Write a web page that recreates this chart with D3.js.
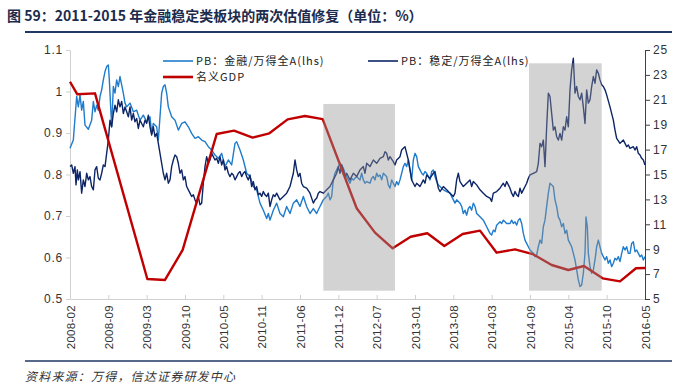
<!DOCTYPE html>
<html>
<head>
<meta charset="utf-8">
<script src="https://cdn.jsdelivr.net/npm/d3@7"></script>
<style>
  body { margin: 0; background: #fff; }
  svg { display: block; }
</style>
</head>
<body>
<div id="chart"></div>
<script>
// ---- data ----
// x is a trading-day style index along the category axis (0 = 2008-02, 1725 = 2016-05)
const xTickLabels = ['2008-02', '2008-09', '2009-03', '2009-10', '2010-05', '2010-11', '2011-06', '2011-12',
  '2012-07', '2013-01', '2013-08', '2014-03', '2014-09', '2015-04', '2015-10', '2016-05'];
const xTickStep = 115;

const leftTicks = [0.5, 0.6, 0.7, 0.8, 0.9, 1.0, 1.1];
const rightTicks = [5, 7, 9, 11, 13, 15, 17, 19, 21, 23, 25];

// PB: 金融/万得全A (lhs)
const finPB = [
  [0,0.863],[10,0.883],[20,0.988],[25,0.963],[30,0.992],[35,0.955],[40,0.976],[45,0.919],[55,0.909],[65,0.931],
  [70,0.976],[75,0.951],[80,0.967],[85,0.955],[90,0.988],[95,1.004],[100,1.028],[105,1.048],[110,1.060],[115,1.064],
  [118,1.028],[122,0.963],[125,0.915],[130,1.012],[135,0.996],[140,1.028],[145,1.012],[150,1.036],[155,1.016],[160,0.996],
  [165,0.972],[170,0.963],[180,0.972],[190,0.951],[200,0.955],[210,0.931],[220,0.943],[230,0.927],[240,0.939],[245,0.899],
  [250,0.923],[260,0.915],[265,0.883],[270,0.939],[275,0.996],[280,1.012],[285,1.016],[290,0.996],[295,0.963],[305,0.939],
  [315,0.931],[325,0.907],[335,0.923],[345,0.927],[355,0.915],[365,0.899],[375,0.887],[385,0.891],[395,0.883],[405,0.879],
  [415,0.867],[425,0.859],[435,0.847],[445,0.839],[455,0.851],[465,0.819],[475,0.835],[485,0.823],[495,0.875],[500,0.879],
  [510,0.859],[520,0.835],[530,0.803],[540,0.795],[550,0.771],[560,0.763],[570,0.731],[580,0.714],[590,0.694],[595,0.706],
  [600,0.690],[610,0.714],[620,0.731],[630,0.706],[640,0.698],[650,0.723],[660,0.706],[670,0.731],[680,0.739],[690,0.723],
  [700,0.747],[710,0.723],[720,0.706],[730,0.718],[740,0.706],[745,0.715],[750,0.723],[755,0.731],[760,0.739],[770,0.747],
  [775,0.755],[780,0.739],[785,0.747],[790,0.787],[795,0.803],[800,0.811],[805,0.819],[810,0.827],[815,0.823],[820,0.815],
  [825,0.803],[830,0.795],[835,0.787],[840,0.779],[845,0.791],[850,0.787],[860,0.795],[870,0.787],[875,0.803],[880,0.787],
  [885,0.779],[890,0.783],[900,0.779],[905,0.791],[910,0.795],[915,0.787],[920,0.803],[925,0.795],[930,0.799],[935,0.787],
  [940,0.803],[945,0.799],[950,0.795],[955,0.775],[960,0.767],[965,0.787],[970,0.779],[975,0.771],[980,0.783],[985,0.775],
  [990,0.787],[995,0.803],[1000,0.819],[1005,0.827],[1010,0.819],[1015,0.835],[1020,0.811],[1025,0.787],[1030,0.835],[1035,0.851],
  [1040,0.843],[1045,0.819],[1050,0.811],[1055,0.803],[1060,0.799],[1065,0.807],[1070,0.803],[1075,0.795],[1080,0.787],[1085,0.807],
  [1090,0.811],[1095,0.795],[1100,0.783],[1105,0.775],[1110,0.771],[1120,0.763],[1130,0.759],[1140,0.755],[1150,0.739],[1155,0.731],
  [1160,0.739],[1170,0.731],[1175,0.723],[1180,0.706],[1185,0.714],[1190,0.702],[1195,0.718],[1200,0.723],[1205,0.714],[1210,0.731],
  [1215,0.723],[1220,0.706],[1230,0.698],[1240,0.690],[1250,0.674],[1255,0.666],[1260,0.658],[1265,0.654],[1270,0.666],[1275,0.662],
  [1280,0.678],[1290,0.686],[1295,0.682],[1300,0.690],[1305,0.686],[1310,0.682],[1320,0.682],[1325,0.690],[1330,0.682],[1335,0.686],
  [1340,0.678],[1345,0.690],[1350,0.694],[1355,0.682],[1360,0.658],[1365,0.642],[1370,0.634],[1375,0.626],[1380,0.618],[1390,0.610],
  [1395,0.602],[1400,0.606],[1405,0.626],[1410,0.642],[1415,0.634],[1420,0.674],[1425,0.690],[1430,0.723],[1435,0.755],[1440,0.779],
  [1445,0.775],[1450,0.771],[1455,0.739],[1460,0.723],[1465,0.698],[1470,0.690],[1475,0.674],[1480,0.682],[1485,0.658],[1490,0.666],
  [1495,0.642],[1500,0.634],[1505,0.626],[1510,0.610],[1515,0.594],[1520,0.570],[1525,0.546],[1530,0.530],[1535,0.534],[1540,0.562],
  [1545,0.610],[1548,0.698],[1552,0.674],[1555,0.610],[1560,0.578],[1565,0.562],[1570,0.570],[1575,0.594],[1580,0.626],[1585,0.642],
  [1590,0.626],[1595,0.610],[1600,0.602],[1605,0.594],[1610,0.602],[1615,0.586],[1620,0.594],[1625,0.578],[1630,0.586],[1635,0.598],
  [1640,0.594],[1645,0.602],[1650,0.590],[1655,0.610],[1660,0.626],[1665,0.618],[1670,0.626],[1675,0.610],[1680,0.610],[1685,0.634],
  [1690,0.638],[1695,0.614],[1700,0.618],[1705,0.610],[1710,0.602],[1715,0.606],[1720,0.594],[1725,0.602]
];

// PB: 稳定/万得全A (lhs)
const stablePB = [
  [0,0.819],[5,0.823],[10,0.803],[15,0.819],[18,0.775],[22,0.811],[25,0.787],[30,0.807],[35,0.755],[40,0.787],
  [45,0.771],[50,0.803],[55,0.787],[60,0.795],[65,0.771],[70,0.763],[75,0.811],[80,0.819],[85,0.791],[90,0.787],
  [95,0.803],[100,0.823],[105,0.819],[110,0.851],[115,0.883],[120,0.931],[125,0.915],[130,0.947],[135,0.967],[140,0.951],
  [145,0.980],[150,0.963],[155,0.976],[160,0.947],[165,0.963],[170,0.951],[175,0.939],[180,0.963],[185,0.931],[190,0.947],
  [195,0.927],[200,0.935],[205,0.911],[210,0.931],[215,0.923],[220,0.915],[225,0.931],[230,0.923],[235,0.943],[240,0.915],
  [245,0.895],[250,0.915],[255,0.891],[260,0.899],[265,0.875],[270,0.851],[275,0.827],[280,0.803],[285,0.787],[290,0.803],
  [295,0.779],[300,0.787],[305,0.819],[310,0.835],[315,0.847],[320,0.843],[325,0.827],[330,0.803],[335,0.811],[340,0.787],
  [345,0.795],[350,0.771],[360,0.755],[365,0.747],[370,0.751],[375,0.739],[380,0.731],[385,0.747],[390,0.727],[395,0.731],
  [400,0.779],[405,0.819],[410,0.843],[415,0.827],[420,0.835],[425,0.851],[430,0.843],[435,0.835],[440,0.839],[445,0.827],
  [450,0.843],[455,0.823],[460,0.835],[465,0.811],[470,0.819],[475,0.803],[480,0.795],[485,0.803],[490,0.799],[495,0.787],
  [500,0.795],[505,0.803],[510,0.807],[515,0.795],[520,0.803],[525,0.807],[530,0.795],[535,0.787],[540,0.799],[545,0.771],
  [550,0.783],[555,0.763],[560,0.771],[565,0.751],[570,0.755],[575,0.747],[580,0.759],[585,0.751],[590,0.747],[595,0.755],
  [600,0.723],[605,0.739],[610,0.751],[615,0.747],[620,0.755],[630,0.739],[640,0.747],[650,0.755],[660,0.771],[670,0.803],
  [675,0.835],[680,0.811],[685,0.795],[690,0.803],[695,0.779],[700,0.771],[710,0.767],[720,0.755],[730,0.731],[735,0.739],
  [740,0.743],[745,0.755],[750,0.759],[760,0.755],[770,0.763],[780,0.771],[790,0.787],[800,0.803],[805,0.819],[810,0.803],
  [815,0.823],[820,0.811],[825,0.795],[830,0.803],[840,0.787],[850,0.803],[860,0.795],[870,0.811],[880,0.819],[885,0.803],
  [890,0.827],[900,0.819],[910,0.835],[920,0.827],[930,0.839],[940,0.843],[945,0.855],[950,0.851],[955,0.835],[960,0.843],
  [970,0.831],[975,0.823],[980,0.835],[990,0.843],[995,0.859],[1000,0.863],[1005,0.867],[1010,0.851],[1015,0.835],[1020,0.811],
  [1025,0.787],[1030,0.779],[1035,0.771],[1040,0.779],[1050,0.771],[1060,0.787],[1065,0.779],[1070,0.799],[1080,0.791],[1090,0.803],
  [1095,0.807],[1100,0.787],[1105,0.767],[1110,0.759],[1120,0.771],[1130,0.763],[1140,0.755],[1150,0.747],[1155,0.755],[1160,0.787],
  [1165,0.803],[1170,0.783],[1180,0.771],[1190,0.779],[1200,0.787],[1205,0.771],[1210,0.783],[1220,0.775],[1230,0.763],[1240,0.755],
  [1250,0.747],[1260,0.743],[1265,0.735],[1270,0.755],[1280,0.759],[1290,0.767],[1300,0.779],[1305,0.771],[1310,0.783],[1315,0.775],
  [1320,0.767],[1325,0.755],[1330,0.747],[1335,0.759],[1340,0.751],[1345,0.747],[1350,0.767],[1355,0.755],[1360,0.763],[1365,0.771],
  [1370,0.779],[1375,0.791],[1380,0.799],[1390,0.803],[1400,0.807],[1405,0.827],[1410,0.875],[1415,0.867],[1420,0.883],[1425,0.819],
  [1430,0.915],[1435,0.996],[1440,0.988],[1445,0.947],[1450,0.907],[1455,0.915],[1460,0.891],[1465,0.883],[1470,0.899],[1475,0.883],
  [1480,0.915],[1485,0.907],[1490,0.939],[1495,0.915],[1500,1.004],[1505,1.052],[1510,1.080],[1515,0.996],[1520,1.012],[1525,0.988],
  [1530,0.980],[1535,0.996],[1540,0.963],[1545,0.923],[1550,1.004],[1555,0.972],[1560,0.980],[1565,1.012],[1570,1.036],[1575,1.020],
  [1580,1.052],[1585,1.044],[1590,1.028],[1595,1.016],[1600,1.012],[1605,1.004],[1610,0.992],[1620,0.963],[1630,0.931],[1635,0.907],
  [1640,0.887],[1650,0.875],[1660,0.883],[1665,0.875],[1670,0.867],[1675,0.871],[1680,0.863],[1690,0.867],[1695,0.859],[1700,0.867],
  [1705,0.851],[1710,0.847],[1715,0.839],[1720,0.835],[1725,0.823]
];

// 名义GDP (rhs, %)
const nominalGDP = [
  [0,22.45],[22,21.44],[75,21.52],[232,6.61],[285,6.53],[338,8.94],[440,18.25],[492,18.52],[548,17.96],[598,18.31],
  [653,19.43],[705,19.70],[758,19.45],[860,12.29],[915,10.33],[968,9.07],[1022,10.00],[1072,10.28],[1123,9.26],[1178,10.22],
  [1230,10.49],[1280,8.72],[1335,8.99],[1388,8.61],[1445,7.73],[1495,7.33],[1542,7.65],[1598,6.66],[1650,6.42],[1698,7.47],
  [1725,7.49]
];

// two valuation-repair windows: [x start, x end, lhs bottom, lhs top]
const shadedPeriods = [
  [760, 975, 0.52, 0.97],
  [1377, 1595, 0.52, 1.068]
];

const seriesNames = ['PB：金融/万得全A(lhs)', 'PB：稳定/万得全A(lhs)', '名义GDP'];

// ---- layout ----
const W = 682, H = 389;
const margin = { top: 50, right: 37, bottom: 90, left: 70 };
const innerW = W - margin.left - margin.right;
const innerH = H - margin.top - margin.bottom;

const COLORS = {
  fin: '#1f7bcc',
  stable: '#0d2566',
  gdp: '#c00000',
  title: '#1c2b4c',
  rule: '#1f3864',
  text: '#333333',
  axisLight: '#d0d0d0',
  axisDark: '#404040'
};
const FONT = '"Noto Sans CJK SC", "Noto Sans", sans-serif';
const NUM_FONT = '"Liberation Sans", Arial, sans-serif';

const svg = d3.select('#chart').append('svg').attr('width', W).attr('height', H);

// title + rules
svg.append('text').attr('x', 7).attr('y', 21)
  .attr('font-family', FONT).attr('font-size', '14px').attr('font-weight', 'bold')
  .attr('fill', COLORS.title)
  .text('图 59：2011-2015 年金融稳定类板块的两次估值修复（单位：%）');
svg.append('line').attr('x1', 25).attr('x2', 672).attr('y1', 32).attr('y2', 32)
  .attr('stroke', COLORS.rule).attr('stroke-width', 2);
svg.append('line').attr('x1', 25).attr('x2', 672).attr('y1', 361).attr('y2', 361)
  .attr('stroke', COLORS.rule).attr('stroke-width', 1.5);
svg.append('text').attr('x', 25).attr('y', 381)
  .attr('font-family', FONT).attr('font-size', '12px').attr('font-style', 'italic')
  .attr('letter-spacing', '1.2px')
  .attr('fill', COLORS.text)
  .text('资料来源：万得，信达证券研发中心');

const g = svg.append('g').attr('transform', `translate(${margin.left},${margin.top})`);

const x = d3.scaleLinear().domain([0, xTickStep * (xTickLabels.length - 1)]).range([0, innerW]);
const yL = d3.scaleLinear().domain([0.5, 1.1]).range([innerH, 0]);
const yR = d3.scaleLinear().domain([5, 25]).range([innerH, 0]);

// axes
const xAxisG = g.append('g').attr('transform', `translate(0,${innerH})`)
  .call(d3.axisBottom(x)
    .tickValues(xTickLabels.map((_, i) => i * xTickStep))
    .tickFormat((d, i) => xTickLabels[i])
    .tickSize(-4).tickSizeOuter(0));
xAxisG.selectAll('text')
  .attr('transform', 'rotate(-90)')
  .attr('text-anchor', 'end')
  .attr('x', -6).attr('y', 0).attr('dy', '0.35em');

const yLAxisG = g.append('g')
  .call(d3.axisLeft(yL).tickValues(leftTicks).tickSize(4).tickSizeOuter(0)
    .tickFormat(d => d === 1 ? '1' : d.toFixed(1)));

const yRAxisG = g.append('g').attr('transform', `translate(${innerW},0)`)
  .call(d3.axisRight(yR).tickValues(rightTicks).tickSize(5).tickSizeOuter(0));

[xAxisG, yLAxisG, yRAxisG].forEach(axis => {
  axis.selectAll('text').attr('fill', COLORS.text).attr('font-size', '12px')
    .attr('font-family', NUM_FONT).attr('letter-spacing', '0.8px');
});
xAxisG.selectAll('text').attr('font-size', '11.5px').attr('letter-spacing', '0.3px');
[xAxisG, yLAxisG].forEach(axis => axis.selectAll('line,path').attr('stroke', COLORS.axisLight));
yRAxisG.selectAll('line,path').attr('stroke', COLORS.axisDark);

// lines
const lineL = d3.line().x(d => x(d[0])).y(d => yL(d[1]));
const lineR = d3.line().x(d => x(d[0])).y(d => yR(d[1]));

g.append('path').datum(finPB).attr('d', lineL)
  .attr('fill', 'none').attr('stroke', COLORS.fin).attr('stroke-width', 1.4).attr('stroke-linejoin', 'round');
g.append('path').datum(stablePB).attr('d', lineL)
  .attr('fill', 'none').attr('stroke', COLORS.stable).attr('stroke-width', 1.4).attr('stroke-linejoin', 'round');
g.append('path').datum(nominalGDP).attr('d', lineR)
  .attr('fill', 'none').attr('stroke', COLORS.gdp).attr('stroke-width', 2.4).attr('stroke-linejoin', 'round');

// translucent shading drawn on top, as in the original
g.selectAll('rect.period').data(shadedPeriods).join('rect')
  .attr('class', 'period')
  .attr('x', d => x(d[0])).attr('width', d => x(d[1]) - x(d[0]))
  .attr('y', d => yL(d[3])).attr('height', d => yL(d[2]) - yL(d[3]))
  .attr('fill', '#939393').attr('fill-opacity', 0.41);

// legend
const legendItems = [
  { name: seriesNames[0], color: COLORS.fin, w: 1.6, x: 163, y: 61 },
  { name: seriesNames[1], color: COLORS.stable, w: 1.6, x: 368, y: 61 },
  { name: seriesNames[2], color: COLORS.gdp, w: 2.6, x: 163, y: 77 }
];
const legend = svg.append('g');
legendItems.forEach(it => {
  legend.append('line').attr('x1', it.x).attr('x2', it.x + 30).attr('y1', it.y).attr('y2', it.y)
    .attr('stroke', it.color).attr('stroke-width', it.w);
  legend.append('text').attr('x', it.x + 33).attr('y', it.y).attr('dy', '0.35em')
    .attr('font-family', FONT).attr('font-size', '11px').attr('fill', '#222')
    .attr('letter-spacing', '1px')
    .text(it.name);
});
</script>
</body>
</html>
